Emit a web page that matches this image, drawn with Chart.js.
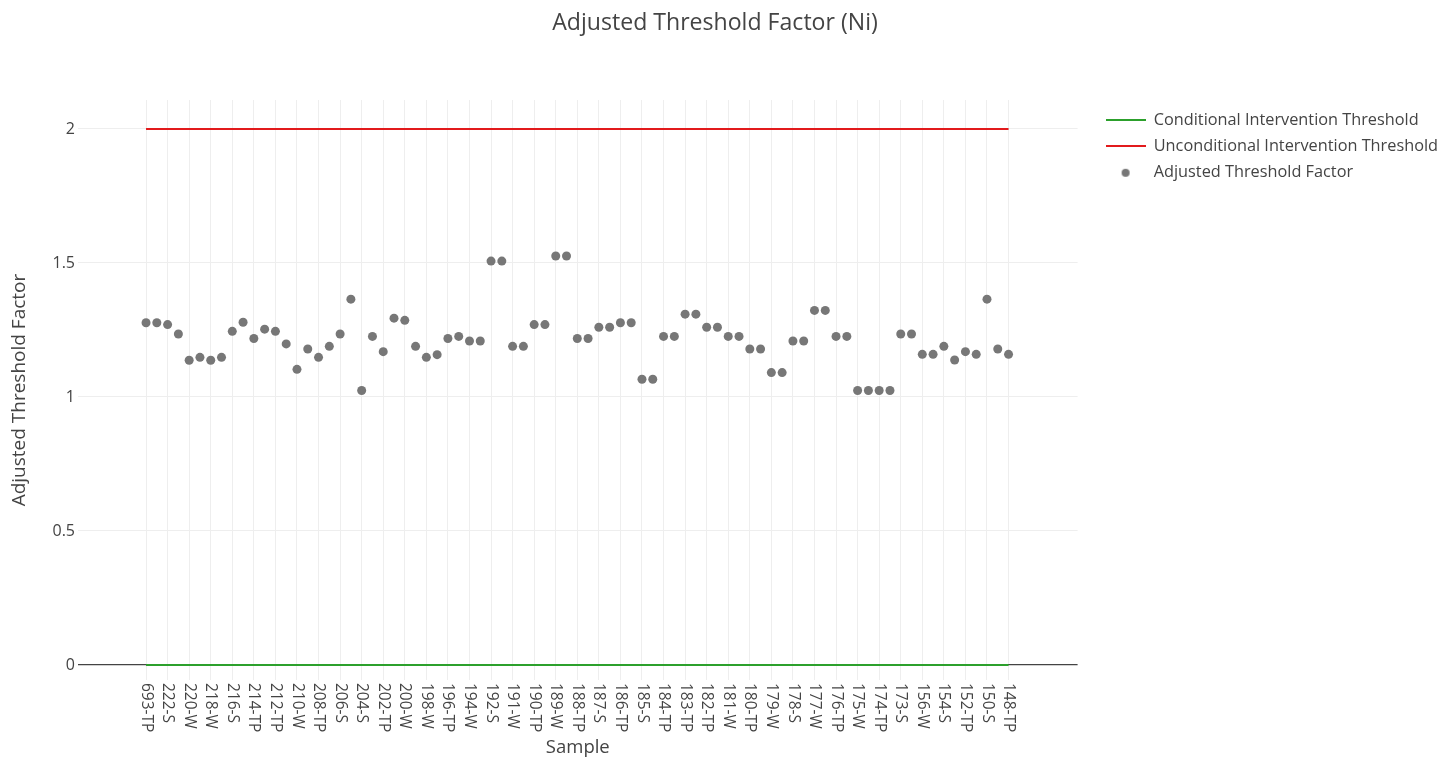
<!DOCTYPE html>
<html>
<head>
<meta charset="utf-8">
<script src="https://cdn.jsdelivr.net/npm/chart.js@4.4.1/dist/chart.umd.min.js"></script>
<style>
  html, body { margin: 0; padding: 0; background: #fff; overflow: hidden; }
  #wrap { position: relative; width: 1439px; height: 759px; }
</style>
</head>
<body>
<div id="wrap"><canvas id="c"></canvas></div>
<script>
// ---- data ----
const samples = [
  '693-TP','693-S','222-S','221-W','220-W','219-S','218-W','217-TP','216-S','215-W',
  '214-TP','213-S','212-TP','211-S','210-W','209-TP','208-TP','207-W','206-S','205-TP',
  '204-S','203-W','202-TP','201-S','200-W','199-TP','198-W','197-S','196-TP','195-W',
  '194-W','193-S','192-S','192-TP','191-W','191-TP','190-TP','190-W','189-W','189-TP',
  '188-TP','188-S','187-S','187-W','186-TP','186-S','185-S','185-W','184-TP','184-S',
  '183-TP','183-W','182-TP','182-S','181-W','181-TP','180-TP','180-W','179-W','179-TP',
  '178-S','178-W','177-W','177-TP','176-TP','176-S','175-W','175-TP','174-TP','174-W',
  '173-S','173-TP','156-W','155-S','154-S','153-W','152-TP','151-S','150-S','149-W',
  '148-TP'
];
const adjustedFactor = [
  1.277,1.277,1.270,1.235,1.137,1.148,1.137,1.148,1.245,1.279,
  1.218,1.253,1.245,1.198,1.103,1.179,1.148,1.189,1.235,1.365,
  1.024,1.226,1.169,1.294,1.286,1.189,1.148,1.158,1.218,1.226,
  1.209,1.209,1.507,1.507,1.189,1.189,1.270,1.270,1.526,1.526,
  1.218,1.218,1.260,1.260,1.277,1.277,1.066,1.066,1.226,1.226,
  1.309,1.309,1.260,1.260,1.226,1.226,1.179,1.179,1.091,1.091,
  1.209,1.209,1.323,1.323,1.226,1.226,1.024,1.024,1.024,1.024,
  1.235,1.235,1.159,1.159,1.189,1.138,1.169,1.159,1.365,1.179,
  1.159
];
const conditionalThreshold = samples.map(() => 0);
const unconditionalThreshold = samples.map(() => 2);
const yTickValues = [0, 0.5, 1, 1.5, 2];
const xTickIndices = samples.map((s, i) => i).filter(i => i % 2 === 0);

const FONT = "'Open Sans', 'Noto Sans', sans-serif";
const TXT = '#444';
const GREEN = 'rgb(44,160,44)';
const RED = 'rgb(226,26,28)';
const GREY = '#777';

function lineImg(color) {
  const c = document.createElement('canvas');
  c.width = 40; c.height = 2;
  const g = c.getContext('2d');
  g.fillStyle = color; g.fillRect(0, 0, 40, 2);
  return c;
}
function dotImg(color) {
  const c = document.createElement('canvas');
  c.width = 40; c.height = 10;
  const g = c.getContext('2d');
  g.fillStyle = color; g.beginPath(); g.arc(20, 5, 4, 0, Math.PI * 2); g.fill();
  return c;
}

const xLabelsPlugin = {
  id: 'xLabels',
  afterDraw(chart) {
    const xs = chart.scales.x;
    const ctx = chart.ctx;
    ctx.save();
    ctx.font = '15.5px ' + FONT;
    ctx.fillStyle = TXT;
    ctx.textAlign = 'left';
    ctx.textBaseline = 'middle';
    xTickIndices.forEach(i => {
      const px = xs.getPixelForValue(i);
      ctx.save();
      ctx.translate(px, chart.chartArea.bottom + 3);
      ctx.rotate(Math.PI / 2);
      ctx.fillText(samples[i], 0, 0);
      ctx.restore();
    });
    ctx.restore();
  }
};

function build() {
  Chart.defaults.font.family = FONT;
  Chart.defaults.color = TXT;
  new Chart(document.getElementById('c'), {
    data: {
      datasets: [
        {
          type: 'line', label: 'Conditional Intervention Threshold',
          data: conditionalThreshold.map((v, i) => ({x: i, y: v})),
          borderColor: GREEN, borderWidth: 2, pointRadius: 0, fill: false, order: 2
        },
        {
          type: 'line', label: 'Unconditional Intervention Threshold',
          data: unconditionalThreshold.map((v, i) => ({x: i, y: v})),
          borderColor: RED, borderWidth: 2, pointRadius: 0, fill: false, order: 2
        },
        {
          type: 'scatter', label: 'Adjusted Threshold Factor',
          data: adjustedFactor.map((v, i) => ({x: i, y: v})),
          backgroundColor: GREY, borderColor: GREY, borderWidth: 0,
          pointRadius: 4.5, order: 1
        }
      ]
    },
    options: {
      responsive: true, maintainAspectRatio: false, animation: false,
      layout: { padding: { left: -18, right: -9, top: 0, bottom: 0 } },
      plugins: {
        title: {
          display: true, text: 'Adjusted Threshold Factor (Ni)',
          font: { size: 23.1, weight: 'normal', family: FONT }, color: TXT,
          padding: { top: 9.1, bottom: 63.2 }
        },
        legend: {
          position: 'right', align: 'start', fullSize: false, maxWidth: 420,
          title: { display: true, text: '', font: { size: 1, lineHeight: 1 }, padding: { top: 1, bottom: 0 } },
          labels: {
            font: { size: 16.3, family: FONT }, color: TXT,
            usePointStyle: true, pointStyleWidth: 40, padding: 10,
            generateLabels(chart) {
              const imgs = [lineImg(GREEN), lineImg(RED), dotImg(GREY)];
              return chart.data.datasets.map((d, i) => ({
                text: d.label, pointStyle: imgs[i], datasetIndex: i,
                fillStyle: 'transparent', strokeStyle: 'transparent', lineWidth: 0,
                hidden: !chart.isDatasetVisible(i), fontColor: TXT
              }));
            }
          }
        },
        tooltip: { enabled: false }
      },
      scales: {
        x: {
          type: 'linear', position: 'bottom', min: -6.311, max: 86.404,
          afterBuildTicks: s => { s.ticks = xTickIndices.map(v => ({ value: v })); },
          ticks: { display: false },
          grid: { color: '#eee', lineWidth: 1, drawTicks: false },
          border: { display: false },
          title: { display: true, text: 'Sample', font: { size: 18.5, family: FONT }, color: TXT, padding: { top: 0, bottom: 0 } },
          afterFit: s => { s.height = 79; }
        },
        y: {
          type: 'linear', position: 'left', min: -0.056, max: 2.108,
          afterBuildTicks: s => { s.ticks = yTickValues.map(v => ({ value: v })); },
          ticks: { padding: 3, font: { size: 16, family: FONT }, color: TXT, callback: v => String(v) },
          grid: {
            color: c => (c.tick && c.tick.value === 0) ? '#444' : '#eee',
            lineWidth: c => (c.tick && c.tick.value === 0) ? 1.2 : 1,
            drawTicks: false
          },
          border: { display: false },
          title: { display: true, text: 'Adjusted Threshold Factor', font: { size: 19, family: FONT }, color: TXT, padding: { top: 26.6, bottom: 0 } },
          afterFit: s => { s.width = 96; }
        },
        gap: {
          type: 'linear', position: 'right', display: true,
          ticks: { display: false }, grid: { display: false }, border: { display: false },
          afterFit: s => { s.width = 18; }
        }
      }
    },
    plugins: [xLabelsPlugin]
  });
}

if (document.fonts && document.fonts.load) {
  Promise.all([document.fonts.load("15px 'Open Sans'"), document.fonts.load("21px 'Open Sans'")])
    .then(build, build);
} else { build(); }
</script>
</body>
</html>
